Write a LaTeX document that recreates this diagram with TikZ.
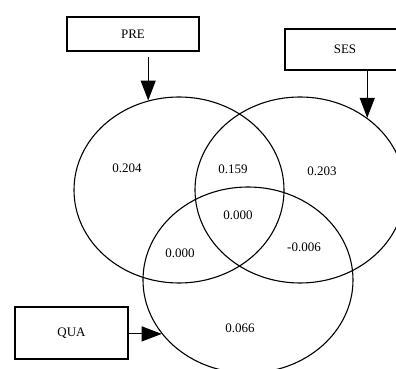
\documentclass[tikz,border=0pt]{standalone}
\usepackage{fontspec}
\setmainfont{Liberation Serif}
\usetikzlibrary{shapes.geometric,arrows.meta,calc}
\tikzset{
    venn/.style={draw,ellipse,line width=1.1pt,minimum width=210pt,minimum height=186pt,inner sep=0pt},
    varbox/.style={draw,rectangle,line width=1.1pt,inner sep=0pt,font=\fontsize{13}{15}\selectfont},
    val/.style={font=\fontsize{13}{15}\selectfont},
    arr/.style={line width=1.1pt,-{Triangle[length=20pt,width=15pt]}}
}
\begin{document}
\begin{tikzpicture}[x=1pt,y=1pt]
          	\clip (0,0) rectangle (396,369);
            \node[venn] (elpre) at (179,179) {};
            \node[venn] (elses) at (300,179) {};
            \node[venn] (elqua) at (248,89) {};
             \node[varbox,minimum width=132pt,minimum height=34pt] (pre) at (133,335) {PRE};
             \node[varbox,minimum width=120pt,minimum height=41pt] (ses) at (345,319.5) {SES};
             \node[varbox,minimum width=113pt,minimum height=52pt] (qua) at (71.5,36) {QUA};
             \draw[arr] ($(pre.south -| elpre.109)+(0,-5)$) -- (elpre.109);
             \draw[arr] (ses.south -| elses.47) -- (elses.47);
             \draw[arr] (qua.east |- elqua.212) -- (elqua.212);
             \node[val] (vpre) at (127,201) {0.204};
             \node[val] (vpreses) at (233,200) {0.159};
             \node[val] (vses) at (322,198) {0.203};
             \node[val] (vall) at (238,154) {0.000};
             \node[val] (vsesqua) at (304,122) {-0.006};
             \node[val] (vprequa) at (180,116) {0.000};
             \node[val] (vqua) at (240,41) {0.066};
      \end{tikzpicture}
\end{document}
